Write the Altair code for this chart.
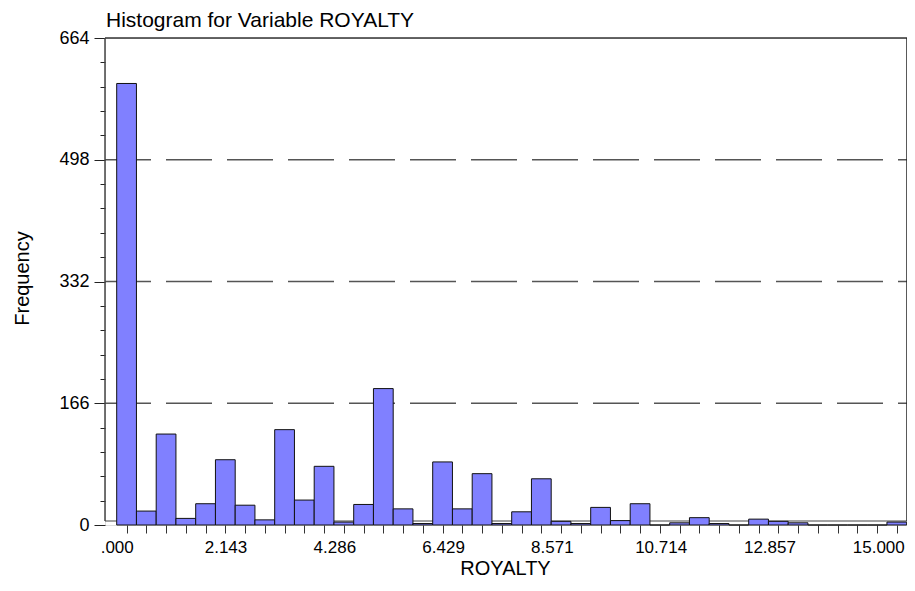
import altair as alt
import pandas as pd

FONT = "Liberation Sans"

# ---- data ----
counts = [602, 19, 124, 9, 29, 89, 27, 7, 130, 34,
          80, 4, 28, 186, 22, 2, 86, 22, 70, 2,
          18, 63, 5, 2, 24, 6, 29, 0, 3, 10,
          2, 0, 8, 5, 3, 0, 0, 0, 0, 4]
bin_width = 0.389
x_label_values = [0.0, 2.143, 4.286, 6.429, 8.571, 10.714, 12.857, 15.0]
y_major = [0, 166, 332, 498, 664]
grid_values = [166, 332, 498]
y_minor = [33.2 * k for k in range(1, 20) if k % 5]
title_text = ["Histogram for Variable ROYALTY"]

starts = [i * bin_width for i in range(len(counts))]
ends = [(i + 1) * bin_width for i in range(len(counts))]
centers = [(i + 0.5) * bin_width for i in range(len(counts))]
bars_df = pd.DataFrame({"start": starts, "end": ends, "count": counts})

W, H = 802, 487
FB = 483  # bottom frame line (pixels from top of plot)
xscale = alt.Scale(domain=[-0.2305, 15.566], nice=False, zero=False)
yscale = alt.Scale(domain=[0, 664], nice=False, zero=True)

main_y = alt.Axis(values=y_major, orient="left", tickSize=11, tickColor="#222",
                  labelPadding=5, labelFontSize=18, labelFont=FONT, labelColor="black",
                  domain=False, grid=False, title="Frequency", titleFont=FONT,
                  titleFontSize=20, titleFontWeight="normal", titleColor="black",
                  titleAngle=270, titleX=-83, titleY=240, titleAlign="center",
                  titleBaseline="middle")
minor_y = alt.Axis(values=y_minor, orient="left", tickSize=5, tickColor="#222",
                   labels=False, domain=False, grid=False, title=None)
x_tick_axis = alt.Axis(values=centers, orient="bottom", tickSize=8, tickColor="#333",
                       labels=False, domain=False, grid=False, title=None)
x_label_axis = alt.Axis(values=x_label_values, orient="bottom", ticks=False, tickSize=0,
                        labelPadding=14, labelFontSize=17, labelFont=FONT,
                        labelColor="black", labelFlush=False, labelOverlap=False,
                        labelExpr="datum.value == 0 ? '.000' : format(datum.value, '.3f')",
                        domain=False, grid=False, title="ROYALTY", titleFont=FONT,
                        titleFontSize=20, titleFontWeight="normal", titleColor="black",
                        titleX=400, titleY=49, titleAlign="center",
                        titleBaseline="alphabetic")

grid = alt.Chart(pd.DataFrame({"v": grid_values})).mark_rule(
    color="#555", strokeDash=[46, 15], strokeWidth=1.5
).encode(
    y=alt.Y("v:Q", scale=yscale, axis=main_y),
    x=alt.value(0), x2=alt.value(W),
)

bars = alt.Chart(bars_df).mark_rect(
    fill="#8080FF", stroke="#111", strokeWidth=1, opacity=1
).encode(
    x=alt.X("start:Q", scale=xscale, axis=x_tick_axis),
    x2="end:Q",
    y=alt.Y("count:Q", scale=yscale, axis=minor_y),
    y2=alt.Y2(datum=0),
)

labels = alt.Chart(pd.DataFrame({"t": x_label_values})).mark_point(opacity=0).encode(
    x=alt.X("t:Q", scale=xscale, axis=x_label_axis),
)

one = pd.DataFrame({"a": [0]})
frame_top = alt.Chart(one).mark_rule(color="#333", strokeWidth=1.5).encode(
    x=alt.value(0), x2=alt.value(W), y=alt.value(0))
frame_right = alt.Chart(one).mark_rule(color="#222", strokeWidth=1.5).encode(
    x=alt.value(W), y=alt.value(0), y2=alt.value(FB))
frame_left = alt.Chart(one).mark_rule(color="#444", strokeWidth=1.5).encode(
    x=alt.value(0), y=alt.value(0), y2=alt.value(FB))
frame_bottom = alt.Chart(one).mark_rule(color="#444", strokeWidth=1.2).encode(
    x=alt.value(0), x2=alt.value(W), y=alt.value(FB))

title = alt.Chart(pd.DataFrame({"t": title_text})).mark_text(
    align="left", baseline="alphabetic", fontSize=21, font=FONT, color="black"
).encode(text="t:N", x=alt.value(1), y=alt.value(-11))

chart = alt.layer(
    grid, frame_bottom, bars, labels, frame_top, frame_right, frame_left, title
).resolve_axis(x="independent", y="independent").properties(
    width=W, height=H,
    autosize=alt.AutoSizeParams(type="none"),
    padding={"left": 97, "top": 30, "right": 0, "bottom": 54},
).configure_view(stroke=None).configure(background="white")

chart.save("out.html", embed_options={"renderer": "svg", "actions": False})
